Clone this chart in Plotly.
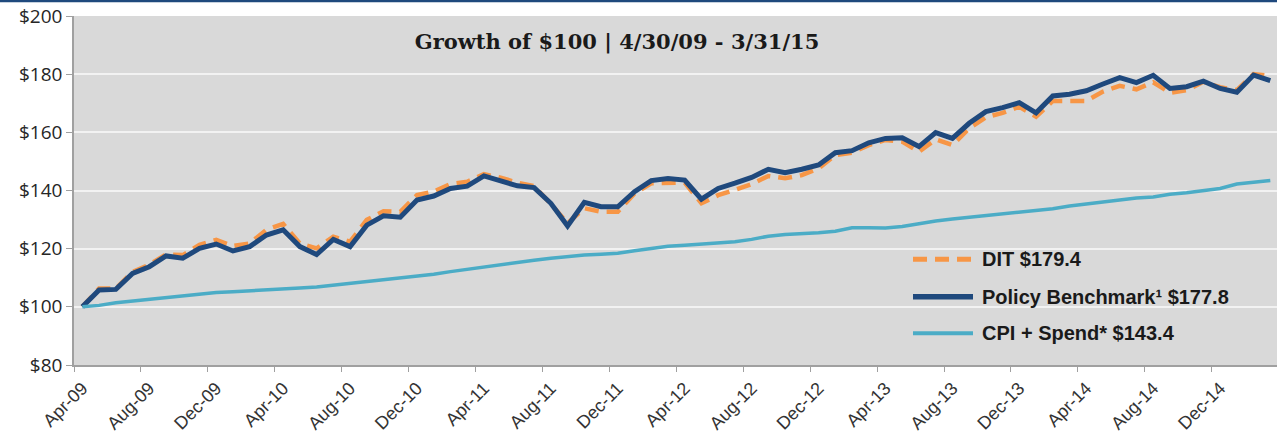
import pandas as pd
import plotly.graph_objects as go

# ---- data ----
months = [d.strftime("%b-%y") for d in pd.date_range("2009-04-30", periods=72, freq="ME")]

dit = [100.0, 106.3, 106.3, 112.0, 114.5, 118.0, 117.8, 121.3, 123.0, 120.9, 121.8, 126.5,
       128.5, 121.8, 120.1, 124.1, 122.4, 129.9, 132.9, 132.7, 138.4, 139.6, 142.2, 143.0,
       145.6, 144.4, 142.7, 141.5, 135.4, 128.7, 133.9, 132.7, 132.7, 139.0, 142.5, 142.7,
       142.7, 135.6, 138.4, 140.2, 142.2, 145.0, 144.2, 145.3, 147.6, 152.2, 153.0, 155.6,
       157.4, 156.8, 153.3, 157.6, 155.6, 161.4, 165.2, 166.7, 168.8, 165.4, 170.8, 170.8,
       170.8, 174.0, 176.0, 174.8, 177.2, 173.6, 174.5, 177.4, 175.5, 174.5, 180.0, 179.4]

benchmark = [100.0, 105.8, 106.0, 111.5, 113.8, 117.5, 116.7, 120.1, 121.6, 119.2, 120.7, 124.7,
             126.5, 120.7, 118.0, 123.2, 120.7, 128.1, 131.3, 130.8, 136.7, 138.1, 140.7, 141.5,
             145.0, 143.4, 141.6, 141.0, 135.6, 127.8, 135.9, 134.4, 134.4, 139.6, 143.4, 144.1,
             143.6, 137.0, 140.7, 142.5, 144.5, 147.3, 146.1, 147.3, 148.8, 153.0, 153.7, 156.4,
             157.9, 158.1, 155.1, 159.9, 157.9, 163.1, 167.1, 168.5, 170.2, 166.7, 172.5, 173.1,
             174.3, 176.6, 178.8, 177.1, 179.6, 175.1, 175.7, 177.6, 175.1, 173.8, 179.7, 177.8]

cpi = [100.0, 100.5, 101.4, 102.0, 102.6, 103.3, 103.8, 104.4, 104.9, 105.2, 105.6, 105.9,
       106.2, 106.5, 106.8, 107.4, 108.1, 108.6, 109.2, 109.8, 110.4, 111.2, 112.1, 112.9,
       113.8, 114.7, 115.3, 116.0, 116.7, 117.3, 117.8, 118.1, 118.4, 119.3, 120.1, 120.8,
       121.2, 121.5, 121.8, 122.4, 123.2, 124.3, 124.9, 125.1, 125.5, 126.0, 127.2, 127.2,
       127.1, 127.6, 128.7, 129.5, 130.2, 130.8, 131.2, 131.8, 132.4, 133.0, 133.7, 134.7,
       135.4, 136.2, 136.9, 137.4, 137.8, 138.7, 139.2, 139.9, 140.7, 142.2, 142.8, 143.4]

series_names = ["DIT $179.4", "Policy Benchmark\u00b9 $177.8", "CPI + Spend* $143.4"]
series_colors = ["#F79646", "#1F497D", "#4BACC6"]
series_widths = [4.5, 5, 3.5]
series_dash = ["dash", "solid", "solid"]

title_text = "Growth of $100 | 4/30/09 - 3/31/15"
y_ticks = [80, 100, 120, 140, 160, 180, 200]

# ---- figure ----
x_idx = list(range(len(months)))
fig = go.Figure()
for vals, name, col, w, d in zip([dit, benchmark, cpi], series_names, series_colors,
                                  series_widths, series_dash):
    fig.add_trace(go.Scatter(x=x_idx, y=vals, mode="lines", name=name,
                             line=dict(color=col, width=w, dash=("14px,8px" if d == "dash" else d)),
                             showlegend=False))

W, H = 1277, 436
ml, mr, mt, mb = 74, 0, 16, 71
pw = W - ml - mr
ph = H - mt - mb

def px_x(x):
    return (x - ml) / pw

def px_y(y):
    return (H - mb - y) / ph

label_idx = x_idx[::4]

fig.update_layout(
    width=W, height=H,
    margin=dict(l=ml, r=mr, t=mt, b=mb, pad=0),
    paper_bgcolor="white",
    plot_bgcolor="#D9D9D9",
    title=dict(text="<b>" + title_text + "</b>", x=617 / W, y=1 - 42 / H,
               xanchor="center", yanchor="middle",
               font=dict(family="DejaVu Serif", size=21, color="#1a1a1a")),
    xaxis=dict(range=[-0.5, 71.4], showgrid=False, zeroline=False,
               tickmode="array", tickvals=label_idx, ticktext=[months[i] for i in label_idx],
               tickangle=-45, ticks="outside", ticklen=4, tickcolor="rgba(0,0,0,0)",
               tickfont=dict(family="Liberation Sans", size=18, color="#333333"),
               showline=True, linecolor="#A0A0A0", linewidth=1.5,
               minor=dict(tickmode="array", tickvals=[i - 0.5 for i in label_idx],
                          ticks="outside", ticklen=5, tickcolor="#A0A0A0", tickwidth=1.2,
                          showgrid=False)),
    yaxis=dict(range=[80, 200], tickmode="array", tickvals=y_ticks,
               ticktext=["$" + str(v) for v in y_ticks],
               showgrid=True, gridcolor="#F2F2F2", gridwidth=1.5, zeroline=False,
               ticks="outside", ticklen=6, tickcolor="#A0A0A0", tickwidth=1.2,
               showline=True, linecolor="#A0A0A0", linewidth=1.5,
               tickfont=dict(family="Open Sans", size=19, color="#262626")),
)

# top border line
fig.add_shape(type="line", xref="paper", yref="paper", x0=-ml / pw, x1=1, y0=1 + (mt - 1) / ph,
              y1=1 + (mt - 1) / ph, line=dict(color="#1F497D", width=2.5))

# manual legend
leg_rows = [259.3, 296.7, 333.3]
for name, col, w, d, yr in zip(series_names, series_colors, series_widths, series_dash, leg_rows):
    fig.add_shape(type="line", xref="paper", yref="paper",
                  x0=px_x(913), x1=px_x(973), y0=px_y(yr), y1=px_y(yr),
                  line=dict(color=col, width=w + 0.5, dash=("14px,8px" if d == "dash" else d)))
    fig.add_annotation(xref="paper", yref="paper", x=px_x(980), y=px_y(yr),
                       xanchor="left", yanchor="middle", showarrow=False,
                       text="<b>" + name + "</b>",
                       font=dict(family="Liberation Sans", size=20, color="#1a1a1a"))

fig.write_html("out.html", config={"displayModeBar": False},
               post_script="document.body.style.margin='0px';")
